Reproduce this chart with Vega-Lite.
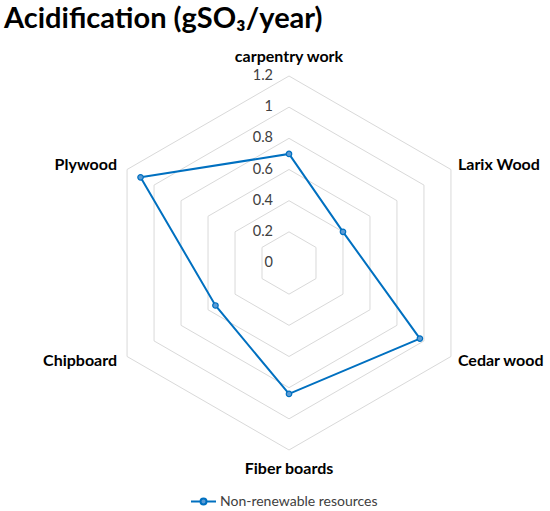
{
  "$schema": "https://vega.github.io/schema/vega-lite/v6.json",
  "width": 550,
  "height": 471,
  "padding": {"top": 40, "left": 0, "right": 0, "bottom": 0},
  "autosize": {"type": "none"},
  "background": "white",
  "config": {
    "view": {"stroke": null},
    "font": "Lato",
    "title": {"font": "Lato", "fontSize": 29, "fontWeight": "bold", "color": "#000000", "anchor": "start", "frame": "group", "dx": 4, "offset": 6},
    "legend": {"labelFont": "Lato", "labelFontSize": 14, "labelColor": "#404040"}
  },
  "title": "Acidification (gSO₃/year)",
  "datasets": {
    "scores": [
      {"category": "carpentry work", "i": 0, "value": 0.70},
      {"category": "Larix Wood", "i": 1, "value": 0.40},
      {"category": "Cedar wood", "i": 2, "value": 0.97},
      {"category": "Fiber boards", "i": 3, "value": 0.84},
      {"category": "Chipboard", "i": 4, "value": 0.545},
      {"category": "Plywood", "i": 5, "value": 1.10}
    ],
    "rings": [
      {"r": 0.2, "i": [0, 1, 2, 3, 4, 5]},
      {"r": 0.4, "i": [0, 1, 2, 3, 4, 5]},
      {"r": 0.6, "i": [0, 1, 2, 3, 4, 5]},
      {"r": 0.8, "i": [0, 1, 2, 3, 4, 5]},
      {"r": 1.0, "i": [0, 1, 2, 3, 4, 5]},
      {"r": 1.2, "i": [0, 1, 2, 3, 4, 5]}
    ],
    "ticks": [
      {"r": 0, "label": "0"},
      {"r": 0.2, "label": "0.2"},
      {"r": 0.4, "label": "0.4"},
      {"r": 0.6, "label": "0.6"},
      {"r": 0.8, "label": "0.8"},
      {"r": 1.0, "label": "1"},
      {"r": 1.2, "label": "1.2"}
    ]
  },
  "encoding": {
    "x": {"field": "px", "type": "quantitative", "axis": null, "scale": {"domain": [-1.8546, 1.6749], "nice": false, "zero": false}},
    "y": {"field": "py", "type": "quantitative", "axis": null, "scale": {"domain": [-1.5915, 1.4311], "nice": false, "zero": false}}
  },
  "layer": [
    {
      "data": {"name": "rings"},
      "transform": [
        {"flatten": ["i"]},
        {"calculate": "datum.r * sin(datum.i * PI / 3)", "as": "px"},
        {"calculate": "datum.r * cos(datum.i * PI / 3)", "as": "py"}
      ],
      "mark": {"type": "line", "interpolate": "linear-closed", "color": "#D9D9D9", "strokeWidth": 1},
      "encoding": {
        "detail": {"field": "r", "type": "nominal"},
        "order": {"field": "i", "type": "quantitative"}
      }
    },
    {
      "data": {"name": "ticks"},
      "transform": [
        {"calculate": "0", "as": "px"},
        {"calculate": "datum.r", "as": "py"}
      ],
      "mark": {"type": "text", "align": "right", "baseline": "middle", "dx": -16, "fontSize": 14.5, "color": "#404040"},
      "encoding": {"text": {"field": "label"}}
    },
    {
      "data": {"name": "scores"},
      "transform": [
        {"filter": "datum.i == 0 || datum.i == 3"},
        {"calculate": "0", "as": "px"},
        {"calculate": "1.325 * cos(datum.i * PI / 3)", "as": "py"}
      ],
      "mark": {"type": "text", "align": "center", "baseline": "middle", "fontSize": 16, "fontWeight": "bold", "color": "#000000"},
      "encoding": {"text": {"field": "category"}}
    },
    {
      "data": {"name": "scores"},
      "transform": [
        {"filter": "datum.i == 1 || datum.i == 2"},
        {"calculate": "1.2 * sin(datum.i * PI / 3)", "as": "px"},
        {"calculate": "1.26 * cos(datum.i * PI / 3)", "as": "py"}
      ],
      "mark": {"type": "text", "align": "left", "baseline": "middle", "dx": 7, "fontSize": 16, "fontWeight": "bold", "color": "#000000"},
      "encoding": {"text": {"field": "category"}}
    },
    {
      "data": {"name": "scores"},
      "transform": [
        {"filter": "datum.i == 4 || datum.i == 5"},
        {"calculate": "1.2 * sin(datum.i * PI / 3)", "as": "px"},
        {"calculate": "1.26 * cos(datum.i * PI / 3)", "as": "py"}
      ],
      "mark": {"type": "text", "align": "right", "baseline": "middle", "dx": -10, "fontSize": 16, "fontWeight": "bold", "color": "#000000"},
      "encoding": {"text": {"field": "category"}}
    },
    {
      "data": {"name": "scores"},
      "transform": [
        {"calculate": "datum.value * sin(datum.i * PI / 3)", "as": "px"},
        {"calculate": "datum.value * cos(datum.i * PI / 3)", "as": "py"}
      ],
      "mark": {"type": "line", "interpolate": "linear-closed", "strokeWidth": 2},
      "encoding": {
        "order": {"field": "i", "type": "quantitative"},
        "color": {
          "datum": "Non-renewable resources",
          "type": "nominal",
          "scale": {"range": ["#0070C0"]},
          "legend": {
            "title": null,
            "orient": "none",
            "legendX": 190,
            "legendY": 448,
            "symbolType": "M -1 0 L -0.24 0 M 0.24 0 A 0.24 0.24 0 1 1 -0.24 0 A 0.24 0.24 0 1 1 0.24 0 M 0.24 0 L 1 0",
            "symbolSize": 625,
            "symbolStrokeWidth": 2,
            "symbolStrokeColor": "#0070C0",
            "symbolFillColor": "#5B9BD5",
            "labelOffset": 3
          }
        }
      }
    },
    {
      "data": {"name": "scores"},
      "transform": [
        {"calculate": "datum.value * sin(datum.i * PI / 3)", "as": "px"},
        {"calculate": "datum.value * cos(datum.i * PI / 3)", "as": "py"}
      ],
      "mark": {"type": "point", "filled": true, "size": 30, "fill": "#5B9BD5", "stroke": "#0070C0", "strokeWidth": 1.2, "opacity": 1}
    }
  ]
}
